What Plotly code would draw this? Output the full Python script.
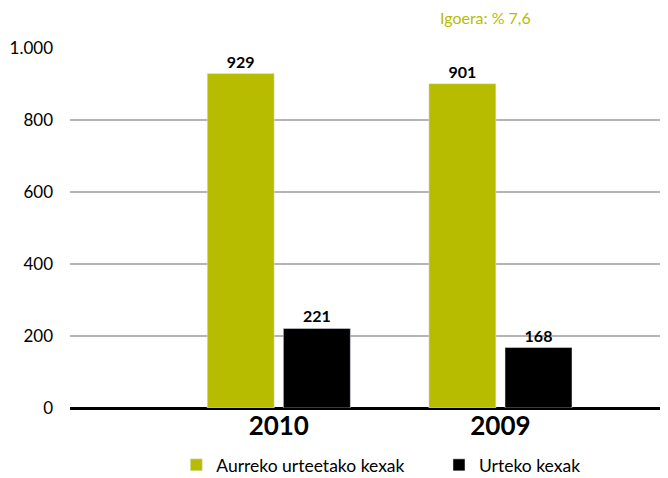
import plotly.graph_objects as go

years = ["2010", "2009"]
aurreko = [929, 901]
urteko = [221, 168]
ytick_vals = [0, 200, 400, 600, 800, 1000]
ytick_text = ["0", "200", "400", "600", "800", "1.000"]

olive = "#b7bc00"
font_family = "Lato, 'Open Sans', sans-serif"

fig = go.Figure()
fig.add_trace(go.Bar(
    name="Aurreko urteetako kexak", x=years, y=aurreko,
    marker_color=olive, text=[str(v) for v in aurreko],
    textposition="outside", cliponaxis=False, legend="legend",
    textfont=dict(size=16, color="black", family=font_family, weight="bold"),
))
fig.add_trace(go.Bar(
    name="Urteko kexak", x=years, y=urteko,
    marker_color="black", text=[str(v) for v in urteko],
    textposition="outside", cliponaxis=False, legend="legend2",
    textfont=dict(size=16, color="black", family=font_family, weight="bold"),
))

legend_style = dict(orientation="h", xanchor="left", y=0.0277, yanchor="middle",
                    yref="container", xref="container",
                    font=dict(size=17.5), itemwidth=30)

# page body has an 8px margin, so the figure is sized to fit the window
fig.update_layout(
    width=660, height=470,
    margin=dict(l=62, r=0, t=40, b=70, autoexpand=False),
    paper_bgcolor="white", plot_bgcolor="white",
    barmode="group", bargap=0.313, bargroupgap=0.12,
    font=dict(family=font_family, color="black"),
    showlegend=True,
    legend=dict(x=0.255, **legend_style),
    legend2=dict(x=0.653, **legend_style),
    annotations=[dict(text="Igoera: % 7,6", x=(485 - 70) / 598, y=(408 - 17) / 360,
                      xref="paper", yref="paper", xanchor="center", yanchor="middle",
                      showarrow=False, font=dict(size=16, color=olive))],
)

fig.update_xaxes(
    range=[-0.942, 1.756], showgrid=False, showline=False, ticks="",
    automargin=False,
    tickfont=dict(size=26, family=font_family, weight="bold"),
)
fig.update_yaxes(
    range=[0, 1000], tickvals=ytick_vals, ticktext=ytick_text,
    showgrid=True, gridcolor="#b5b5b5", gridwidth=1.5,
    zeroline=True, zerolinecolor="black", zerolinewidth=2.5,
    showline=False, ticks="", ticklabelstandoff=16, automargin=False,
    tickfont=dict(size=17),
)

fig.write_html("out.html")
